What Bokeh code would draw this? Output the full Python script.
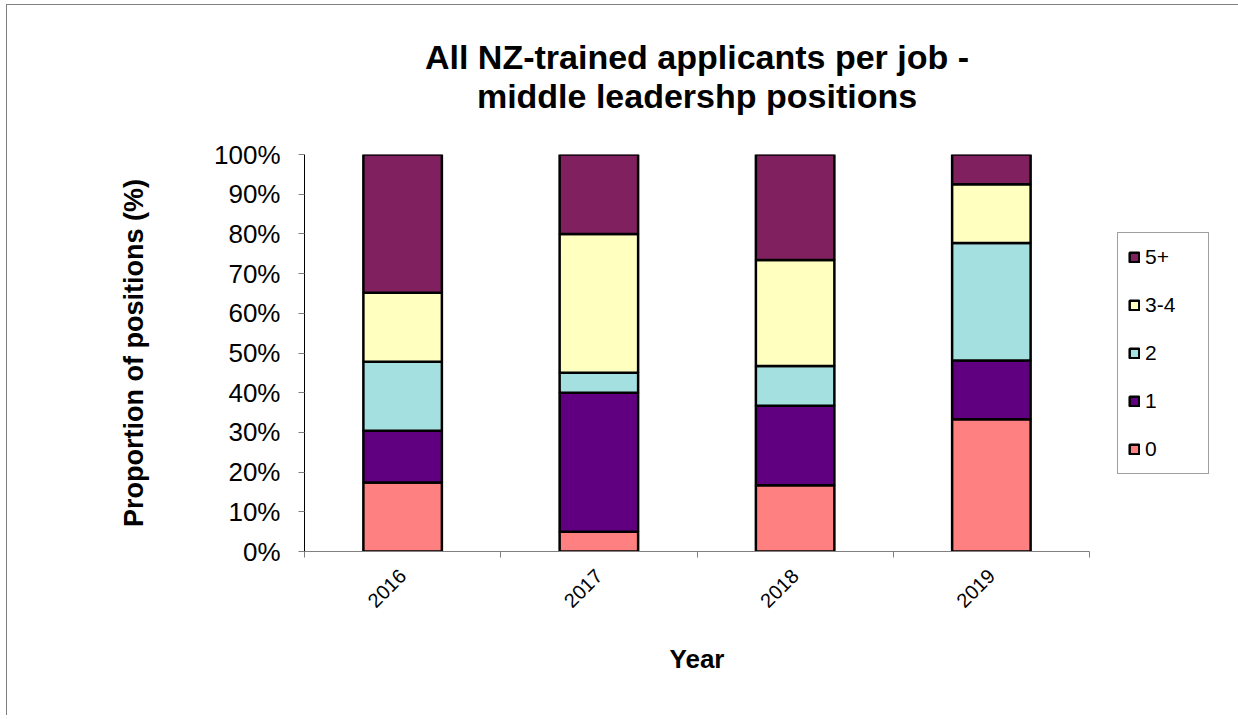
from bokeh.plotting import figure
from bokeh.models import ColumnDataSource, FixedTicker, PrintfTickFormatter, Legend, LegendItem, Range1d, Title
from bokeh.embed import file_html
from bokeh.resources import INLINE
import math

years = ["2016", "2017", "2018", "2019"]
groups = ["0", "1", "2", "3-4", "5+"]
share_0 = [17.4, 5.0, 16.7, 33.3]
share_1 = [13.0, 35.0, 20.0, 14.8]
share_2 = [17.4, 5.0, 10.0, 29.6]
share_34 = [17.4, 35.0, 26.7, 14.8]
share_5p = [34.8, 20.0, 26.6, 7.5]
colors = ["#FF8080", "#600080", "#A4E0E0", "#FFFFC0", "#80205F"]
y_ticks = [0, 10, 20, 30, 40, 50, 60, 70, 80, 90, 100]
title_lines = ["All NZ-trained applicants per job -", "middle leadershp positions"]

FONT = "Liberation Sans"

centers = [i + 0.5 for i in range(len(years))]
bounds = [i for i in range(len(years) + 1)]

src = ColumnDataSource(dict(x=centers, **{"0": share_0, "1": share_1, "2": share_2,
                                         "3-4": share_34, "5+": share_5p}))

p = figure(frame_width=785, frame_height=397, output_backend="svg", toolbar_location=None,
           x_range=Range1d(0, len(years)), y_range=Range1d(0, 100),
           min_border_left=297, min_border_right=0,
           min_border_top=149, min_border_bottom=164)
p.styles = {"border-left": "1px solid #808080", "border-top": "1px solid #808080",
            "margin-left": "6px", "margin-top": "4px"}
p.outline_line_color = None
p.xgrid.visible = False
p.ygrid.visible = False
p.background_fill_color = "white"
p.border_fill_color = "white"
p.title.visible = False

# spacer panel between the frame and the two title lines
spacer = Title(text=" ", text_font=FONT, text_font_size="10px", standoff=27)
t2 = Title(text=title_lines[1], align="center", text_font=FONT, text_font_size="34px",
           text_font_style="bold", text_color="black", standoff=0)
t1 = Title(text=title_lines[0], align="center", text_font=FONT, text_font_size="34px",
           text_font_style="bold", text_color="black", standoff=-2)
p.add_layout(spacer, "above")
p.add_layout(t2, "above")
p.add_layout(t1, "above")

rs = p.vbar_stack(groups, x="x", width=0.4, source=src, fill_color=colors,
                  line_color="black", line_width=2.5)

items = [LegendItem(label=g, renderers=[r]) for g, r in zip(groups, rs)][::-1]
legend = Legend(items=items, location="center_left", orientation="vertical",
                glyph_width=12, glyph_height=12, label_height=28, label_width=53,
                spacing=20, padding=10, margin=28, label_standoff=5,
                label_text_font=FONT, label_text_font_size="21px", label_text_color="black",
                border_line_color="#404040", border_line_width=1,
                background_fill_color="white", background_fill_alpha=1)
p.add_layout(legend, "right")

# x axis
xa = p.xaxis[0]
xa.ticker = FixedTicker(ticks=centers, minor_ticks=bounds)
xa.major_label_overrides = {c: y for c, y in zip(centers, years)}
xa.major_label_orientation = math.pi / 4
xa.major_tick_out = 0
xa.major_tick_in = 0
xa.minor_tick_out = 6
xa.minor_tick_in = 0
xa.minor_tick_line_color = "#808080"
xa.axis_line_color = "#808080"
xa.major_label_text_font = FONT
xa.major_label_text_font_size = "20px"
xa.major_label_text_color = "black"
xa.major_label_standoff = 15
xa.axis_label = "Year"
xa.axis_label_text_font = FONT
xa.axis_label_text_font_size = "26px"
xa.axis_label_text_font_style = "bold"
xa.axis_label_text_color = "black"
xa.axis_label_standoff = 27

# y axis
ya = p.yaxis[0]
ya.ticker = FixedTicker(ticks=y_ticks, minor_ticks=[])
ya.formatter = PrintfTickFormatter(format="%d%%")
ya.major_tick_out = 6
ya.major_tick_in = 0
ya.major_tick_line_color = "#808080"
ya.axis_line_color = "black"
ya.major_label_text_font = FONT
ya.major_label_text_font_size = "26px"
ya.major_label_text_color = "black"
ya.major_label_standoff = 18
ya.axis_label = "Proportion of positions (%)"
ya.axis_label_text_font = FONT
ya.axis_label_text_font_size = "27px"
ya.axis_label_text_font_style = "bold"
ya.axis_label_text_color = "black"
ya.axis_label_standoff = 62

open("out.html", "w").write(file_html(p, INLINE))
